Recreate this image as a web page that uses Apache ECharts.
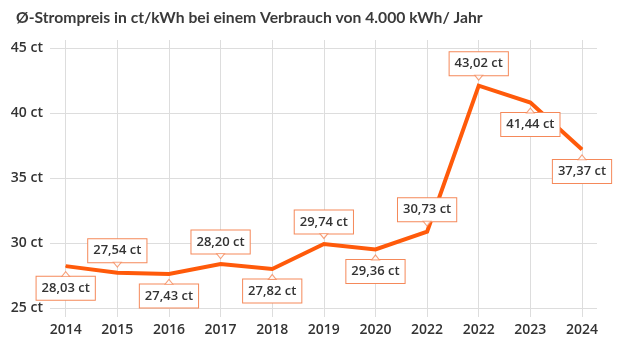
<!DOCTYPE html>
<html><head><meta charset="utf-8">
<script src="https://cdn.jsdelivr.net/npm/echarts@6/dist/echarts.min.js"></script>
<style>html,body{margin:0;padding:0;background:#fff}#c{width:620px;height:349px}</style>
</head><body><div id="c"></div>
<script>
const titleText = 'Ø-Strompreis in ct/kWh bei einem Verbrauch von 4.000 kWh/ Jahr';
const years = ['2014','2015','2016','2017','2018','2019','2020','2022','2022','2023','2024'];
const prices = [28.22, 27.72, 27.62, 28.38, 28.0, 29.92, 29.5, 30.87, 42.1, 40.8, 37.2];
const priceLabels = ['28,03 ct','27,54 ct','27,43 ct','28,20 ct','27,82 ct','29,74 ct','29,36 ct','30,73 ct','43,02 ct','41,44 ct','37,37 ct'];
const labelSide = ['bottom','top','bottom','top','bottom','top','bottom','top','top','bottom','bottom'];
const yMin = 25, yMax = 45, yStep = 5;

const FONT = '"Open Sans", sans-serif';
const TFONT = 'Lato, sans-serif';
const TXT = '#333333';
const ORANGE = '#ff5a0a';
const BOX = '#f5895a';
const GRIDC = '#dddddd';

// layout
const outerTop = 48, outerBottomY = 308, outerLeft = 50, outerRight = 597;
const innerTop = 40, innerBottomY = 317, innerLeft = 65.7, innerRight = 582;
const pxPerUnit = (outerBottomY - outerTop) / (yMax - yMin);
const innerMin = yMin - (innerBottomY - outerBottomY) / pxPerUnit;
const innerMax = yMax + (outerTop - innerTop) / pxPerUnit;

const chart = echarts.init(document.getElementById('c'), null, {renderer: 'canvas'});
chart.setOption({
  animation: false,
  title: {
    text: titleText, left: 11, top: 5,
    textStyle: {fontFamily: TFONT, fontSize: 15.7, fontWeight: 700, color: '#3a3a3a'}
  },
  grid: [
    {left: outerLeft, right: 620 - outerRight, top: outerTop, bottom: 349 - outerBottomY},
    {left: innerLeft, right: 620 - innerRight, top: innerTop, bottom: 349 - innerBottomY}
  ],
  xAxis: [
    {gridIndex: 0, type: 'value', show: false, min: 0, max: 1},
    {gridIndex: 1, type: 'category', data: years, boundaryGap: false,
     axisLine: {show: false}, axisTick: {show: false},
     axisLabel: {margin: 6, color: TXT, fontFamily: FONT, fontSize: 14, fontWeight: 600},
     splitLine: {show: true, lineStyle: {color: GRIDC, width: 1}}}
  ],
  yAxis: [
    {gridIndex: 0, type: 'value', min: yMin, max: yMax, interval: yStep,
     axisLine: {show: false}, axisTick: {show: false},
     axisLabel: {margin: 7, formatter: '{value} ct', color: TXT, fontFamily: FONT, fontSize: 14, fontWeight: 600},
     splitLine: {show: true, lineStyle: {color: GRIDC, width: 1}}},
    {gridIndex: 1, type: 'value', min: innerMin, max: innerMax, show: false, splitLine: {show: false}}
  ],
  series: [
    {
      type: 'line', xAxisIndex: 1, yAxisIndex: 1, z: 3,
      data: prices.map((v, i) => ({
        value: v,
        label: {position: labelSide[i], formatter: priceLabels[i]}
      })),
      symbol: 'circle', symbolSize: 1, showSymbol: true,
      itemStyle: {color: ORANGE},
      lineStyle: {color: ORANGE, width: 4, join: 'miter'},
      label: {
        show: true, distance: 10,
        color: TXT, fontFamily: FONT, fontSize: 13, fontWeight: 600,
        backgroundColor: '#fff', borderColor: BOX, borderWidth: 1,
        padding: [3, 5, 3, 5], lineHeight: 17
      }
    },
    {
      type: 'scatter', xAxisIndex: 1, yAxisIndex: 1, z: 6, silent: true,
      data: prices.map((v, i) => ({
        value: v,
        symbolRotate: labelSide[i] === 'top' ? 180 : 0,
        symbolOffset: [0, labelSide[i] === 'top' ? -8 : 8]
      })),
      symbol: 'triangle', symbolSize: [8, 5],
      itemStyle: {color: '#fff', borderColor: BOX, borderWidth: 1}
    }
  ]
});
</script></body></html>
